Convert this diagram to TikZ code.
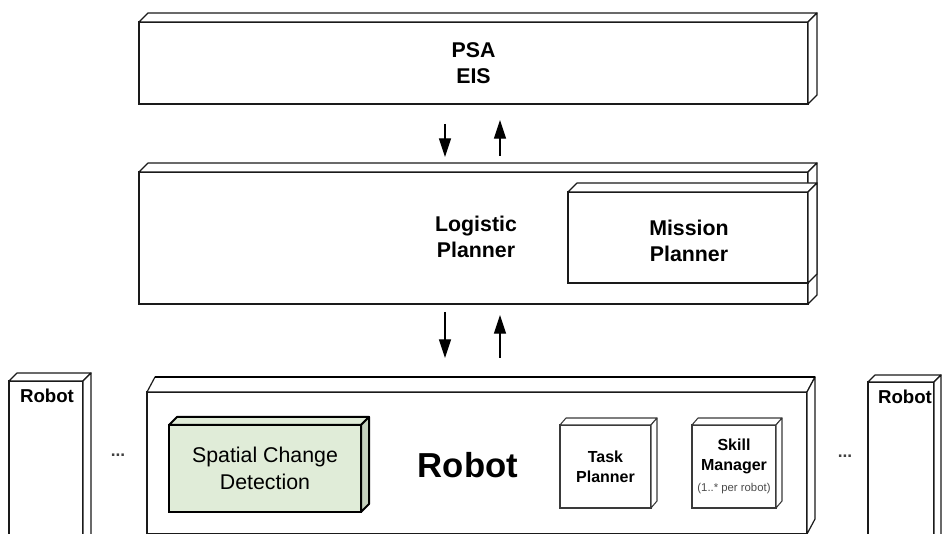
\documentclass[tikz,border=0pt]{standalone}
\usepackage{fontspec}
\setmainfont{Liberation Sans}
\usetikzlibrary{arrows.meta}

\definecolor{scdfill}{HTML}{E0ECD8}
\definecolor{scdside}{HTML}{C4D0BD}
\definecolor{edgecol}{HTML}{1A1A1A}
\definecolor{softedge}{HTML}{3A3A3A}

% front face of a 3D box: style, name, x1, y1, x2, y2, text
\newcommand{\frontbox}[7]{%
  \node[#1, minimum width={(#5-#3)*0.75pt}, minimum height={(#6-#4)*0.75pt}]
    (#2) at ({(#3+#5)/2},{(#4+#6)/2}) {#7};}

% top and right faces of a 3D box: name, dx, dy, top style, side style
\newcommand{\depthfaces}[5]{%
  \draw[#4] (#1.north west) -- ++(#2,-#3) -- ([shift={(#2,-#3)}]#1.north east)
    -- (#1.north east) -- cycle;
  \draw[#5] (#1.north east) -- ++(#2,-#3) -- ([shift={(#2,-#3)}]#1.south east)
    -- (#1.south east) -- cycle;}

\tikzset{
  face/.style={draw=edgecol, line width=0.9pt, fill=white, inner sep=0pt, outer sep=0pt},
  facepath/.style={draw=edgecol, line width=0.9pt, fill=white, line join=round},
  smallface/.style={draw=softedge, line width=0.8pt, fill=white, inner sep=0pt, outer sep=0pt},
  smallpath/.style={draw=softedge, line width=0.8pt, fill=white, line join=round},
  greenface/.style={draw=black, line width=1.5pt, fill=scdfill, inner sep=0pt, outer sep=0pt},
  greentop/.style={draw=black, line width=1.5pt, fill=scdfill, line join=round},
  greenside/.style={draw=black, line width=1.5pt, fill=scdside, line join=round},
  headtxt/.style={font=\bfseries\fontsize{16}{19.5}\selectfont, align=center},
  smalltxt/.style={font=\bfseries\fontsize{12}{15}\selectfont, align=center},
  labeltxt/.style={font=\bfseries\fontsize{14}{16}\selectfont},
  dotstxt/.style={font=\bfseries\fontsize{13}{14}\selectfont, text=black!75},
  flow/.style={-{Triangle[length=14pt,width=9pt]}, line width=0.8pt, draw=black},
}

\begin{document}
\begin{tikzpicture}[x=0.75pt, y=-0.75pt]
\useasboundingbox (0,0) rectangle (943,534);
\clip (0,0) rectangle (943,534);

% upper layer
\frontbox{face, headtxt}{psa}{139}{22}{808}{104}{PSA\\EIS}
\depthfaces{psa}{9}{9}{facepath}{facepath}

% planning layer
\frontbox{face}{logistic}{139}{172}{808}{304}{}
\depthfaces{logistic}{9}{9}{facepath}{facepath}
\node[headtxt] (logtxt) at (476,236.5) {Logistic\\Planner};
\frontbox{face}{mission}{568}{192}{808}{283}{}
\depthfaces{mission}{9}{9}{facepath}{facepath}
\node[headtxt] (missiontxt) at (689,241) {Mission\\Planner};

% robot layer
\frontbox{face}{robotl}{9}{381}{83}{545}{}
\depthfaces{robotl}{8}{8}{facepath}{facepath}
\node[labeltxt] (robotltxt) at (47,396) {Robot};

\frontbox{face}{robotr}{868}{382}{934}{545}{}
\depthfaces{robotr}{7}{7}{facepath}{facepath}
\node[labeltxt] (robotrtxt) at (905,397) {Robot};

\frontbox{face}{robot}{147}{392}{807}{534}{}
\depthfaces{robot}{8}{15}{facepath}{facepath}
\draw[line width=2pt, black] ([shift={(8,-15)}]robot.north west) -- ([shift={(8,-15)}]robot.north east);
\node[font=\bfseries\fontsize{26}{30}\selectfont] (robottxt) at (468,465) {Robot};

\node[dotstxt] (dotsl) at (118,455) {...};
\node[dotstxt] (dotsr) at (845,456) {...};

% components inside the robot
\frontbox{greenface, font=\fontsize{16}{20}\selectfont, align=center}{scd}{169}{425}{361}{512}{Spatial Change\\Detection}
\depthfaces{scd}{8}{8}{greentop}{greenside}

\frontbox{smallface, smalltxt}{task}{560}{425}{651}{508}{Task\\Planner}
\depthfaces{task}{6}{7}{smallpath}{smallpath}

\frontbox{smallface, smalltxt}{skill}{692}{425}{776}{508}{Skill\\Manager\\[1pt]{\normalfont\fontsize{8.5}{10}\selectfont\color{black!70}(1..* per robot)}}
\depthfaces{skill}{6}{7}{smallpath}{smallpath}

% exchanges between the layers
\coordinate (a1s) at (445,124);
\coordinate (a1e) at (445,157);
\coordinate (a2s) at (500,156);
\coordinate (a2e) at (500,120);
\coordinate (a3s) at (445,312);
\coordinate (a3e) at (445,358);
\coordinate (a4s) at (500,358);
\coordinate (a4e) at (500,315);
\draw[flow] (a1s) -- (a1e);
\draw[flow] (a2s) -- (a2e);
\draw[flow] (a3s) -- (a3e);
\draw[flow] (a4s) -- (a4e);
\end{tikzpicture}
\end{document}
